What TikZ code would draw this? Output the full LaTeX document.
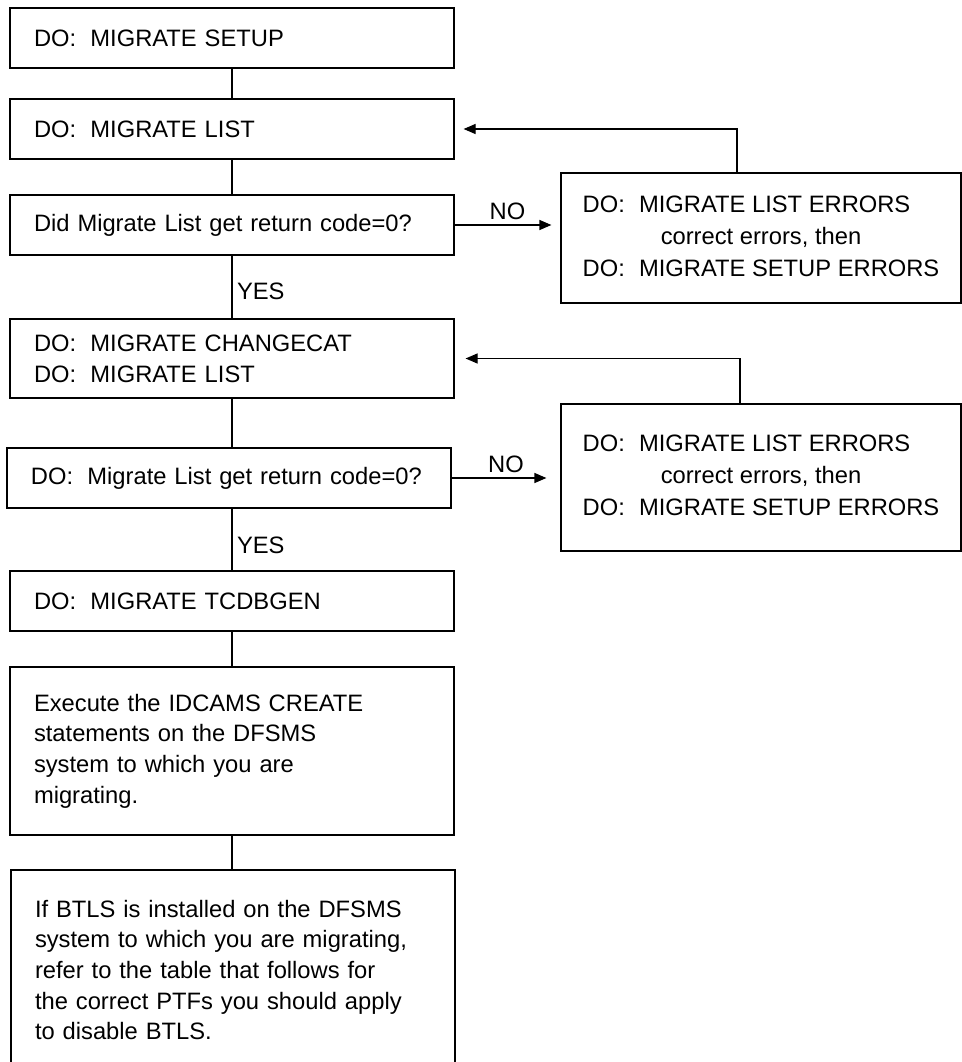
\documentclass[tikz,border=0pt]{standalone}
\usepackage{fontspec}
\setmainfont{Liberation Sans}
\usetikzlibrary{arrows.meta}
\newcommand{\DOsp}{DO:\hspace{0.6em}}
\newcommand{\errlines}{\begin{tabular}{@{}l@{}}
\DOsp MIGRATE LIST ERRORS\\
\multicolumn{1}{@{}c@{}}{correct errors, then}\\
\DOsp MIGRATE SETUP ERRORS
\end{tabular}}

\begin{document}
\begin{tikzpicture}[x=0.75pt,y=-0.75pt,
  font=\fontsize{17.8}{23}\selectfont,
  >={Triangle[length=9pt,width=7.5pt]},
  box/.style={draw,line width=0.9pt,minimum width=333pt,text width=297pt,
    inner xsep=18pt,inner ysep=0pt,align=left},
  errbox/.style={draw,line width=0.9pt,minimum width=300pt,inner sep=0pt,
    align=center,font=\fontsize{17.8}{24}\selectfont}]
\clip (0,0) rectangle (962,1062);
\node[box,minimum height=45pt] (Setup) at (232,38) {\DOsp MIGRATE SETUP};
\node[box,minimum height=45pt] (List) at (232,129) {\DOsp MIGRATE LIST};
\node[box,minimum height=45pt] (Chk1) at (232,225) {Did Migrate List get return code=0?};
\node[errbox,minimum height=97.5pt] (Err1) at (761,238) {\errlines};
\node[box,minimum height=59.25pt] (Chg) at (232,358.5) {\DOsp MIGRATE CHANGECAT\\ \DOsp MIGRATE LIST};
\node[box,minimum height=45pt] (Chk2) at (229,478) {\DOsp Migrate List get return code=0?};
\node[errbox,minimum height=110.25pt] (Err2) at (761,477.5) {\errlines};
\node[box,minimum height=45pt] (Tcdb) at (232,601) {\DOsp MIGRATE TCDBGEN};
\node[box,minimum height=126pt] (Exec) at (232,751) {Execute the IDCAMS CREATE\\ statements on the DFSMS\\ system to which you are\\ migrating.};
\node[box,minimum height=150pt] (Btls) at (233,970) {If BTLS is installed on the DFSMS\\ system to which you are migrating,\\ refer to the table that follows for\\ the correct PTFs you should apply\\ to disable BTLS.};
% main column
\path[draw,line width=0.9pt]
(Setup.south) -- (List.north)
(List.south) -- (Chk1.north)
(Chk1.south) -- (Chg.north) node[right,pos=0.57]{YES}
(Chg.south) -- (Chg.south |- Chk2.north)
(Chg.south |- Chk2.south) -- (Tcdb.north) node[right,pos=0.59]{YES}
(Tcdb.south) -- (Exec.north)
(Exec.south) -- (Exec.south |- Btls.north);
% NO branches and loops back
\draw[->,line width=0.9pt,shorten >=6.75pt] (Chk1.east) -- (Chk1.east -| Err1.west) node[midway,above]{NO};
\draw[->,line width=0.9pt,shorten >=10.5pt] (Chk2.east) -- (Chk2.east -| Err2.west) node[midway,above]{NO};
\draw[->,line width=0.9pt,shorten >=6.75pt] ([xshift=-18pt]Err1.north) |- (List.east);
\draw[->,line width=0.9pt,shorten >=8.25pt] ([xshift=-15.75pt]Err2.north) |- (Chg.east);
\end{tikzpicture}
\end{document}
